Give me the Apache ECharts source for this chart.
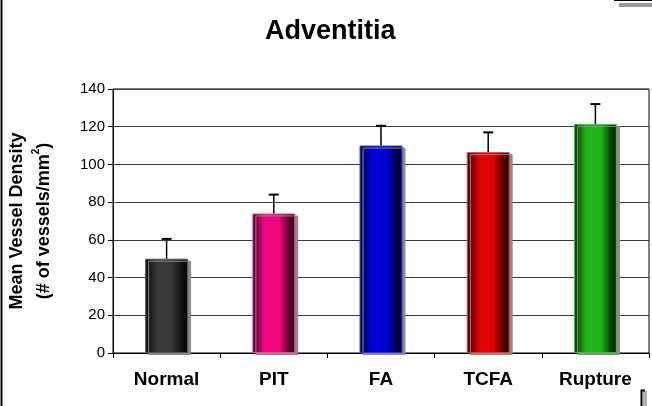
<!DOCTYPE html>
<html>
<head>
<meta charset="utf-8">
<script src="https://cdn.jsdelivr.net/npm/echarts@6/dist/echarts.min.js"></script>
<style>
  html, body { margin: 0; padding: 0; background: #fff; }
  #chart { width: 652px; height: 406px; }
</style>
</head>
<body>
<div id="chart"></div>
<script>
// Mean vessel density in the adventitia, by lesion type
const categories = ['Normal', 'PIT', 'FA', 'TCFA', 'Rupture'];
const meanDensity = [50, 74, 110, 106.5, 121.5];
const stdError = [10.5, 10, 10.5, 10.5, 10.5];
const yTicks = { min: 0, max: 140, step: 20 };

// bar palette: edge shade, highlight shade, outline
const barEdge = ['#080808', '#3a001e', '#00002e', '#2e0000', '#002e00'];
const barLight = ['#383838', '#f0087f', '#0000d4', '#de0202', '#22b41c'];
const barLine = ['#555555', '#ff40a0', '#2a2aff', '#ff3030', '#30cc30'];

function barFill(i) {
  return new echarts.graphic.LinearGradient(0, 0, 1, 0, [
    { offset: 0, color: barEdge[i] },
    { offset: 0.28, color: barLight[i] },
    { offset: 0.62, color: barLight[i] },
    { offset: 0.92, color: barEdge[i] },
    { offset: 1, color: barEdge[i] }
  ]);
}

const barData = meanDensity.map((v, i) => ({
  value: v,
  itemStyle: {
    color: barFill(i),
    borderColor: barLine[i],
    borderWidth: 1
  }
}));

const errData = meanDensity.map((v, i) => [i, v, v + stdError[i]]);

const chart = echarts.init(document.getElementById('chart'), null, { renderer: 'canvas' });

const font = 'Liberation Sans, Arial';

chart.setOption({
  animation: false,
  backgroundColor: '#ffffff',
  title: {
    text: 'Adventitia',
    left: 260,
    top: 13,
    textStyle: { fontFamily: font, fontWeight: 'bold', fontSize: 27, color: '#000' }
  },
  grid: {
    left: 113, right: 3, top: 89, bottom: 53,
    containLabel: false,
    outerBoundsMode: 'none',
    show: true, borderColor: '#000', borderWidth: 1, backgroundColor: '#fff'
  },
  xAxis: {
    type: 'category',
    data: categories,
    axisLine: { lineStyle: { color: '#000', width: 1 } },
    axisTick: { show: true, alignWithLabel: false, length: 5, inside: false, lineStyle: { color: '#000' } },
    axisLabel: {
      margin: 17,
      fontFamily: font, fontWeight: 'bold', fontSize: 19, color: '#000'
    }
  },
  yAxis: {
    type: 'value',
    min: yTicks.min, max: yTicks.max, interval: yTicks.step,
    name: '{l|Mean Vessel Density}\n{l|(# of vessels/mm}{s|2}{l|)}',
    nameLocation: 'middle',
    nameGap: 55,
    nameRotate: 90,
    nameTextStyle: {
      rich: {
        l: { fontFamily: font, fontWeight: 'bold', fontSize: 18, color: '#000', lineHeight: 27 },
        s: { fontFamily: font, fontWeight: 'bold', fontSize: 10, color: '#000', verticalAlign: 'top', lineHeight: 27 }
      }
    },
    axisLine: { show: true, lineStyle: { color: '#000', width: 1 } },
    axisTick: { show: true, length: 5, inside: false, lineStyle: { color: '#000' } },
    axisLabel: { margin: 8, fontFamily: font, fontSize: 15, color: '#000' },
    splitLine: { show: true, lineStyle: { color: '#3a3a3a', width: 1 } }
  },
  series: [
    {
      type: 'bar',
      data: barData,
      barWidth: '40%',
      itemStyle: {
        shadowColor: '#8a8a8a',
        shadowBlur: 0,
        shadowOffsetX: 3,
        shadowOffsetY: 2
      },
      z: 2
    },
    {
      type: 'custom',
      data: errData,
      z: 3,
      renderItem: function (params, api) {
        const x = api.value(0);
        const lo = api.coord([x, api.value(1)]);
        const hi = api.coord([x, api.value(2)]);
        const cap = 5;
        return {
          type: 'group',
          children: [
            { type: 'line', shape: { x1: lo[0], y1: lo[1], x2: hi[0], y2: hi[1] }, style: { stroke: '#000', lineWidth: 1.5 } },
            { type: 'line', shape: { x1: hi[0] - cap, y1: hi[1], x2: hi[0] + cap, y2: hi[1] }, style: { stroke: '#000', lineWidth: 2 } }
          ]
        };
      }
    }
  ],
  graphic: [
    // left frame edge
    { type: 'line', shape: { x1: 1.5, y1: 0, x2: 1.5, y2: 406 }, style: { stroke: '#000', lineWidth: 2 } },
    // top-right corner remnants
    { type: 'line', shape: { x1: 614, y1: 0.5, x2: 652, y2: 0.5 }, style: { stroke: '#000', lineWidth: 1 } },
    { type: 'rect', shape: { x: 619, y: 3, width: 33, height: 4 }, style: { fill: '#9a9a9a' } },
    // bottom-right corner remnant
    { type: 'rect', shape: { x: 643, y: 391, width: 4, height: 15 }, style: { fill: '#b0b0b0' } },
    { type: 'polyline', shape: { points: [[645, 390.5], [641.5, 390.5], [641.5, 406]] }, style: { stroke: '#000', lineWidth: 2, fill: null } }
  ]
});
</script>
</body>
</html>
